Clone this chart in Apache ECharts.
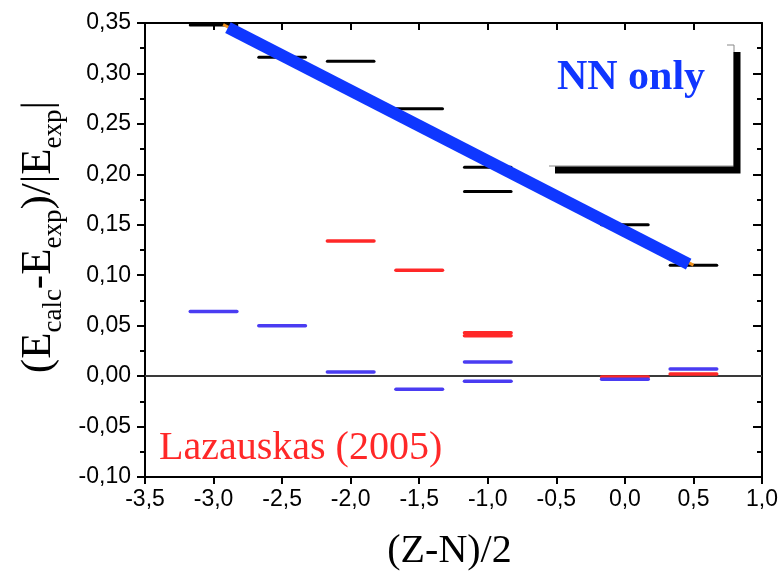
<!DOCTYPE html>
<html>
<head>
<meta charset="utf-8">
<script src="https://cdn.jsdelivr.net/npm/echarts@6/dist/echarts.min.js"></script>
<style>
  html, body { margin: 0; padding: 0; background: #ffffff; }
  #chart { width: 781px; height: 576px; }
</style>
</head>
<body>
<div id="chart"></div>
<script>
// Axis ranges and tick steps
const xRange = [-3.5, 1.0];
const xStep = 0.5;
const yRange = [-0.10, 0.35];
const yStep = 0.05;

// Calculated levels: [(Z-N)/2, (Ecalc-Eexp)/|Eexp|]
const nnOnlyLevels = [
  [-3.0, 0.348], [-2.5, 0.316], [-2.0, 0.312], [-1.5, 0.265],
  [-1.0, 0.207], [-1.0, 0.183], [0.0, 0.150], [0.5, 0.110]
];
const lazauskasLevels = [
  [-2.0, 0.134], [-1.5, 0.105], [-1.0, 0.043], [-1.0, 0.040],
  [0.0, -0.001], [0.5, 0.002]
];
const blueLevels = [
  [-3.0, 0.064], [-2.5, 0.050], [-2.0, 0.004], [-1.5, -0.013],
  [-1.0, 0.014], [-1.0, -0.005], [0.0, -0.003], [0.5, 0.007]
];

// Trend of the NN-only results
const trendLine = [[-2.895, 0.3455], [0.465, 0.111]];
const trendEnds = [[-2.93, 0.3485], [0.50, 0.110]];
const zeroLine = [[-3.5, 0], [1.0, 0]];

// Half length of each level bar, in x units
const HALF = 0.17;

const commaFmt = d => v => v.toFixed(d).replace('.', ',').replace('-0,' + '0'.repeat(d), '0,' + '0'.repeat(d));

function levelRenderer(color, width) {
  return function (params, api) {
    const x = api.value(0), y = api.value(1);
    const p1 = api.coord([x - HALF, y]);
    const p2 = api.coord([x + HALF, y]);
    return {
      type: 'line',
      shape: { x1: p1[0], y1: p1[1], x2: p2[0], y2: p2[1] },
      style: { stroke: color, lineWidth: width, lineCap: 'round' }
    };
  };
}

const chart = echarts.init(document.getElementById('chart'), null, { renderer: 'canvas' });

const tickFont = 'Liberation Sans';
const serif = 'Liberation Serif';

const baseX = {
  type: 'value', min: xRange[0], max: xRange[1], interval: xStep,
  splitLine: { show: false },
  axisLine: { show: true, onZero: false, lineStyle: { color: '#000', width: 2 } }
};
const baseY = {
  type: 'value', min: yRange[0], max: yRange[1], interval: yStep,
  splitLine: { show: false },
  axisLine: { show: true, onZero: false, lineStyle: { color: '#000', width: 2 } }
};

chart.setOption({
  animation: false,
  backgroundColor: '#ffffff',
  grid: { left: 145, right: 19, top: 23, bottom: 97 },
  xAxis: [
    Object.assign({}, baseX, {
      position: 'bottom',
      axisTick: { show: true, inside: false, length: 7, lineStyle: { color: '#000', width: 2 } },
      axisLabel: { formatter: commaFmt(1), fontFamily: tickFont, fontSize: 23, color: '#000', margin: 11 },
      name: '(Z-N)/2', nameLocation: 'middle', nameGap: 54,
      nameTextStyle: { fontFamily: serif, fontSize: 40, color: '#000', padding: [0, 8, 0, 0] }
    }),
    Object.assign({}, baseX, {
      position: 'top',
      axisTick: { show: true, inside: true, length: 7, lineStyle: { color: '#000', width: 2 } },
      axisLabel: { show: false }
    })
  ],
  yAxis: [
    Object.assign({}, baseY, {
      position: 'left',
      axisTick: { show: true, inside: false, length: 8, lineStyle: { color: '#000', width: 2 } },
      minorTick: { show: true, splitNumber: 2, length: 5, lineStyle: { color: '#000', width: 2 } },
      axisLabel: { formatter: commaFmt(2), fontFamily: tickFont, fontSize: 23, color: '#000', margin: 14 },
      name: '{m|(E}{s|calc}{m|-E}{s|exp}{m|)/|E}{s|exp}{m||}',
      nameLocation: 'middle', nameRotate: 90, nameGap: 68,
      nameTextStyle: {
        padding: [0, 0, 0, 26],
        rich: {
          m: { fontFamily: serif, fontSize: 43, color: '#000', lineHeight: 58, verticalAlign: 'middle' },
          s: { fontFamily: serif, fontSize: 27, color: '#000', lineHeight: 58, verticalAlign: 'bottom' }
        }
      }
    }),
    Object.assign({}, baseY, {
      position: 'right',
      axisTick: { show: true, inside: true, length: 9, lineStyle: { color: '#000', width: 2 } },
      minorTick: { show: true, splitNumber: 2, length: 5, lineStyle: { color: '#000', width: 2 } },
      axisLabel: { show: false }
    })
  ],
  series: [
    {
      type: 'line', data: zeroLine, symbol: 'none', silent: true,
      lineStyle: { color: '#3a3a3a', width: 2 }, z: 1
    },
    {
      type: 'custom', data: nnOnlyLevels, renderItem: levelRenderer('#000000', 3), z: 2
    },
    {
      type: 'custom', data: lazauskasLevels, renderItem: levelRenderer('#ff2828', 3.5), z: 3
    },
    {
      type: 'custom', data: blueLevels, renderItem: levelRenderer('#4a3cf2', 3.5), z: 4
    },
    {
      type: 'line', data: trendEnds, symbol: 'none', silent: true,
      lineStyle: { color: '#f0921e', width: 3 }, z: 5
    },
    {
      type: 'line', data: trendLine, symbol: 'none', silent: true,
      lineStyle: { color: '#0f37ff', width: 12, cap: 'butt' }, z: 6
    }
  ],
  graphic: [
    // framed box with drop shadow around the label
    {
      type: 'polyline', z: 10,
      shape: { points: [[727, 45], [734, 45], [734, 166], [549, 166]] },
      style: { stroke: '#888', lineWidth: 1, fill: null }
    },
    {
      type: 'polyline', z: 11,
      shape: { points: [[737, 52], [737, 170], [555, 170]] },
      style: { stroke: '#000', lineWidth: 7, fill: null, lineJoin: 'miter' }
    },
    {
      type: 'text', z: 12, x: 631, y: 78,
      style: { text: 'NN only', font: 'bold 42px "Liberation Serif"', fill: '#1036ff', align: 'center', verticalAlign: 'middle' }
    },
    {
      type: 'text', z: 12, x: 159, y: 448,
      style: { text: 'Lazauskas (2005)', font: '40px "Liberation Serif"', fill: '#ff2828', align: 'left', verticalAlign: 'middle' }
    }
  ]
});
</script>
</body>
</html>
